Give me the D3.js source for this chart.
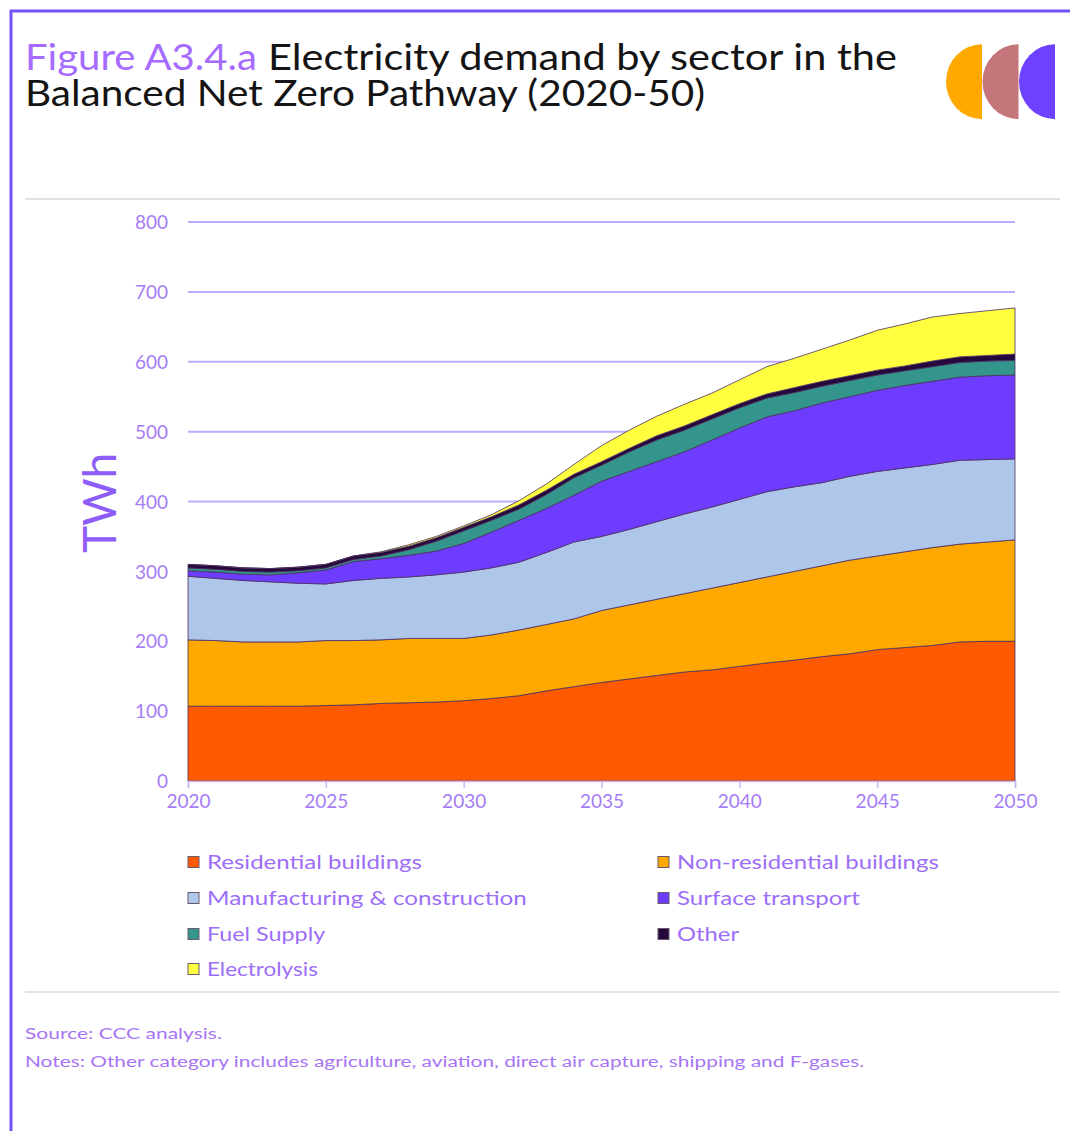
<!DOCTYPE html>
<html><head><meta charset="utf-8">
<script src="https://cdn.jsdelivr.net/npm/d3@7"></script>
<style>
html,body{margin:0;padding:0;background:#fff;}
svg{display:block;}
</style></head>
<body>
<svg id="chart" width="1070" height="1131"></svg>
<script>
// ---------- DATA ----------
const years = [2020,2021,2022,2023,2024,2025,2026,2027,2028,2029,2030,2031,2032,2033,2034,2035,2036,2037,2038,2039,2040,2041,2042,2043,2044,2045,2046,2047,2048,2049,2050];
const residential   = [107,107,107,107,107,108,109,111,112,113,115,118,122,129,135,141,146,151,156,159,164,169,173,178,182,188,191,194,199,200,200];
const nonResidential= [95,94,92,92,92,93,92,91,92,91,89,91,94,95,97,103,106,109,112,117,120,123,127,130,134,134,137,140,140,142,145];
const manufacturing = [91,89,88,86,84,81,86,88,88,91,95,96,97,103,110,106,108,111,114,116,119,122,121,119,120,121,120,119,120,118,116];
const surfaceTransport = [8,9,9,10,15,20,27,28,31,34,41,51,60,63,67,79,83,86,89,96,102,107,109,114,114,116,118,119,119,120,120];
const fuelSupply    = [4,4,4,4,3,3,3,4,8,14,18,17,16,20,25,23,28,31,31,30,29,27,26,24,23,22,21,21,21,21,21];
const other         = [5,5,5,5,5,5,5,5,5,5,5,5,6,6,5,5,5,6,6,6,6,6,7,7,7,7,7,8,8,8,9];
const electrolysis  = [0,0,0,0,0,0,0,1,2,2,2,3,6,9,14,23,26,28,31,31,34,39,42,46,51,57,60,63,62,64,66];

const seriesNames = ["Residential buildings","Non-residential buildings","Manufacturing & construction","Surface transport","Fuel Supply","Other","Electrolysis"];
const seriesValues = [residential,nonResidential,manufacturing,surfaceTransport,fuelSupply,other,electrolysis];
const seriesColors = ["#FF5A00","#FFA800","#AEC6EA","#6E3CFF","#33958C","#25093D","#FFFF40"];

const yTicks = [0,100,200,300,400,500,600,700,800];
const xTicks = [2020,2025,2030,2035,2040,2045,2050];

const titleLead = "Figure A3.4.a";
const titleRest1 = "Electricity demand by sector in the";
const titleLine2 = "Balanced Net Zero Pathway (2020-50)";
const yTitle = "TWh";
const sourceText = "Source: CCC analysis.";
const notesText = "Notes: Other category includes agriculture, aviation, direct air capture, shipping and F-gases.";

// ---------- SETUP ----------
const svg = d3.select("#chart");
const FONT = "Lato, 'Noto Sans', sans-serif";
const lavender = "#A57DF7";

function fitWidth(sel, x0, target) {
  const w = sel.node().getBBox().width;
  const k = target / w;
  sel.attr("transform", `translate(${x0},0) scale(${k},1) translate(${-x0},0)`);
}

// frame
svg.append("line").attr("x1",10).attr("x2",1070).attr("y1",11).attr("y2",11)
   .attr("stroke","#7552F2").attr("stroke-width",3);
svg.append("line").attr("x1",11).attr("x2",11).attr("y1",10).attr("y2",1131)
   .attr("stroke","#7552F2").attr("stroke-width",3);

// title (one text element, three tspans)
const title = svg.append("text").attr("font-family",FONT).attr("font-size",37);
title.append("tspan").attr("x",25).attr("y",70).attr("fill","#A56CFF")
  .attr("textLength",232).attr("lengthAdjust","spacingAndGlyphs").text(titleLead);
title.append("tspan").attr("x",268).attr("y",70).attr("fill","#141414")
  .attr("textLength",629).attr("lengthAdjust","spacingAndGlyphs").text(titleRest1);
title.append("tspan").attr("x",25).attr("y",106).attr("fill","#141414")
  .attr("textLength",680).attr("lengthAdjust","spacingAndGlyphs").text(titleLine2);

// logo: three left half-discs
const logoColors = ["#FFA800","#C4767A","#6E40FF"];
const logoEdges = [982, 1018.5, 1055];
logoEdges.forEach((ex,i)=>{
  const r = 37.5, cy = 81.7;
  svg.append("path")
    .attr("d", `M${ex},${cy-r} A${r*0.96},${r} 0 0 0 ${ex},${cy+r} Z`)
    .attr("fill", logoColors[i]);
});

// separators
svg.append("line").attr("x1",25).attr("x2",1060).attr("y1",199).attr("y2",199)
   .attr("stroke","#E3E3E3").attr("stroke-width",2);
svg.append("line").attr("x1",25).attr("x2",1060).attr("y1",992).attr("y2",992)
   .attr("stroke","#E3E3E3").attr("stroke-width",2);

// scales
const x = d3.scaleLinear().domain([2020,2050]).range([188,1015]);
const y = d3.scaleLinear().domain([0,800]).range([781,222]);

// gridlines
svg.append("g").selectAll("line").data(yTicks.filter(d=>d>0)).join("line")
  .attr("x1",x(2020)).attr("x2",x(2050))
  .attr("y1",d=>y(d)).attr("y2",d=>y(d))
  .attr("stroke","#BFA9FF").attr("stroke-width",2);

// stack
const table = years.map((yr,i)=>{
  const row = {year: yr};
  seriesNames.forEach((n,j)=>row[n]=seriesValues[j][i]);
  return row;
});
const stack = d3.stack().keys(seriesNames)(table);
const area = d3.area()
  .x(d=>x(d.data.year)).y0(d=>y(d[0])).y1(d=>y(d[1]));

svg.append("g").selectAll("path").data(stack).join("path")
  .attr("d",area)
  .attr("fill",(d,i)=>seriesColors[i])
  .attr("stroke","#4A2E5E").attr("stroke-width",0.8).attr("stroke-linejoin","round");

// y axis
const yAxis = svg.append("g").attr("transform",`translate(${x(2020)-20},0)`)
  .call(d3.axisLeft(y).tickValues(yTicks).tickSize(0).tickPadding(0));
yAxis.select(".domain").remove();
yAxis.selectAll("text").attr("font-family",FONT).attr("font-size",19).attr("fill",lavender)
  .attr("dy","0.35em");

// x axis
const xAxis = svg.append("g").attr("transform",`translate(0,${y(0)})`)
  .call(d3.axisBottom(x).tickValues(xTicks).tickFormat(d3.format("d")).tickSize(7).tickPadding(7));
xAxis.select(".domain").attr("stroke","#C9B8F5").attr("stroke-width",1.5);
xAxis.selectAll(".tick line").attr("stroke","#C9B8F5").attr("stroke-width",1.5);
xAxis.selectAll("text").attr("font-family",FONT).attr("font-size",19).attr("fill",lavender);

// y title
svg.append("text").attr("transform","translate(116,503) rotate(-90)")
  .attr("text-anchor","middle").attr("font-family",FONT).attr("font-size",46)
  .attr("fill","#8E5CF7").text(yTitle);

// legend
const legendPos = [
  {x:188,y:862,w:215},{x:658,y:862,w:262},
  {x:188,y:898,w:320},{x:658,y:898,w:183},
  {x:188,y:934,w:119},{x:658,y:934,w:63},
  {x:188,y:969,w:111}
];
seriesNames.forEach((n,i)=>{
  const p = legendPos[i];
  svg.append("rect").attr("x",p.x).attr("y",p.y-5.5).attr("width",11).attr("height",11)
    .attr("fill",seriesColors[i]).attr("stroke","#6b5a6b").attr("stroke-width",1);
  const tx = svg.append("text").attr("x",p.x+19).attr("y",p.y).attr("dy","0.35em")
    .attr("font-family",FONT).attr("font-size",20).attr("fill","#9D6EF7").text(n);
  fitWidth(tx, p.x+19, p.w);
});

// source & notes
const s1 = svg.append("text").attr("x",25).attr("y",1039).attr("font-family",FONT)
  .attr("font-size",16).attr("fill","#A774F4").text(sourceText);
fitWidth(s1,25,197);
const s2 = svg.append("text").attr("x",25).attr("y",1067).attr("font-family",FONT)
  .attr("font-size",16).attr("fill","#A774F4").text(notesText);
fitWidth(s2,25,840);
</script>
</body></html>
